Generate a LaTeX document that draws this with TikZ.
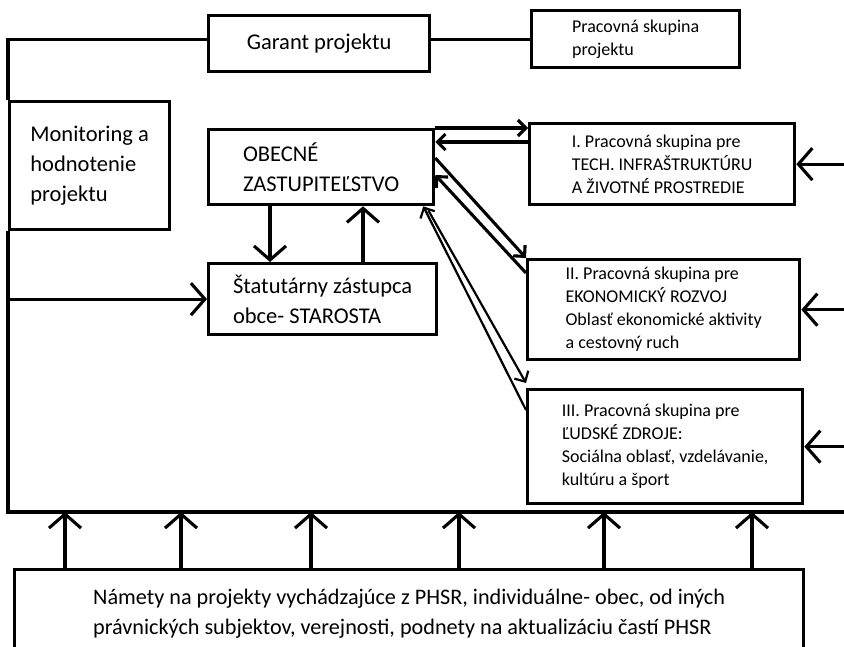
\documentclass[tikz,border=0pt]{standalone}
\usepackage{fontspec}
\setmainfont{Carlito}
\usetikzlibrary{arrows.meta}

\newcommand{\bigtxt}{\fontsize{22.5}{30}\selectfont}
\newcommand{\smalltxt}{\fontsize{18}{23}\selectfont}

\begin{document}
\begin{tikzpicture}[x=1pt,y=-1pt,
box/.style={draw,rectangle,line width=3.3pt,align=left,anchor=north west,inner sep=0pt},
link/.style={line width=3.1pt},
arr/.style={link,-{Straight Barb[length=14pt,width=32pt]}},
smallarr/.style={link,-{Straight Barb[length=8pt,width=16pt]}},
thinarr/.style={line width=2.2pt,-{Straight Barb[length=8pt,width=16pt]}}]
\useasboundingbox (0,0) rectangle (844,646);

% top row
\node (garant) [box,minimum width=221,minimum height=56,font=\bigtxt] at (207,14) {Garant projektu};
\node (skupina) [box,minimum width=208,minimum height=57,font=\smalltxt] at (530,9) {Pracovná skupina\\projektu};

% left column
\node (monitor) [box,minimum width=160,minimum height=128,font=\bigtxt] at (8,100) {Monitoring a\\hodnotenie\\projektu};
\node (obecne) [box,minimum width=225,minimum height=75,font=\bigtxt] at (207,128) {OBECNÉ\\ZASTUPITEĽSTVO};
\node (statutar) [box,minimum width=228,minimum height=71,font=\bigtxt] at (207,262) {Štatutárny zástupca\\obce- STAROSTA};

% working groups
\node (grpI) [box,minimum width=265,minimum height=81,font=\smalltxt] at (528,122) {I. Pracovná skupina pre\\TECH. INFRAŠTRUKTÚRU\\A ŽIVOTNÉ PROSTREDIE};
\node (grpII) [box,minimum width=272,minimum height=100,font=\smalltxt] at (526,258) {II. Pracovná skupina pre\\EKONOMICKÝ ROZVOJ\\Oblasť ekonomické aktivity\\a cestovný ruch};
\node (grpIII) [box,minimum width=275,minimum height=114,font=\smalltxt] at (526,388) {III. Pracovná skupina pre\\ĽUDSKÉ ZDROJE:\\Sociálna oblasť, vzdelávanie,\\kultúru a šport};

% inputs
\node (namety) [box,minimum width=789,minimum height=88,font=\fontsize{22.2}{30}\selectfont] at (13,568) {Námety na projekty vychádzajúce z PHSR, individuálne- obec, od iných\\právnických subjektov, verejnosti, podnety na aktualizáciu častí PHSR};

\coordinate (loopse) at (850,512);

% frame lines
\draw[link] ([yshift=4pt]garant.west) -| (monitor.north west);
\draw[link] (skupina.west -| garant.east) -- (skupina.west);
\draw[link] (monitor.south west) |- (loopse);
\draw[arr] (monitor.south west |- statutar.west) -- (statutar.west);
\foreach \g in {grpI,grpII,grpIII}
  \draw[arr] (loopse |- \g.east) -- (\g.east);
\foreach \x in {65,181,311,459,604,752}
  \draw[arr] (\x,0 |- namety.north) -- (\x,0 |- loopse);

% council and mayor
\draw[arr] (270,0 |- obecne.south) -- (270,0 |- statutar.north);
\draw[arr] (363,0 |- statutar.north) -- (363,0 |- obecne.south);

% council and groups
\draw[smallarr] (obecne.north east) -- (obecne.north east -| grpI.west);
\draw[smallarr] ([yshift=-20pt]grpI.north west) -- ([yshift=-14pt]obecne.north east);
\draw[smallarr] ([yshift=-30pt]obecne.north east) -- (grpII.north west);
\draw[smallarr] ([yshift=-15pt]grpII.north west) -- ([yshift=-47pt]obecne.north east);
\draw[thinarr] ([xshift=-7pt,yshift=-4pt]obecne.south east) -- ([yshift=5pt]grpIII.north west);
\draw[thinarr] ([yshift=-22pt]grpIII.north west) -- ([xshift=-12pt]obecne.south east);
\end{tikzpicture}
\end{document}
